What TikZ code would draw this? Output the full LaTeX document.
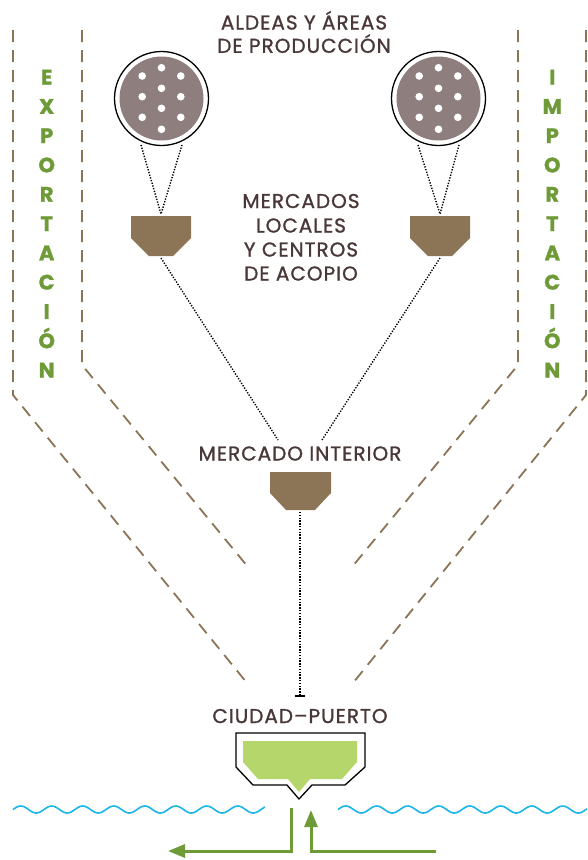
\documentclass[tikz,border=0pt]{standalone}
\usepackage{fontspec}
\setmainfont{Poppins}
\newfontfamily\lblfont{Poppins}[FakeBold=1.2, LetterSpace=5]
\newfontfamily\vfont{Poppins}[FakeBold=1.2]
\usetikzlibrary{arrows.meta,calc}
\definecolor{txt}{HTML}{4A3838}
\definecolor{dashc}{HTML}{8B7355}
\definecolor{funnelc}{HTML}{8C7557}
\definecolor{village}{HTML}{8E7F7E}
\definecolor{grn}{HTML}{6E9A38}
\definecolor{lgreen}{HTML}{B5D66B}
\definecolor{water}{HTML}{1DB5EA}
\begin{document}
\begin{tikzpicture}[x=1pt,y=-1pt,
  lbl/.style={font=\lblfont\fontsize{20}{20}\selectfont, text=txt, anchor=base, inner sep=0pt},
  vlet/.style={font=\vfont\bfseries\fontsize{21}{21}\selectfont, text=grn, anchor=base, inner sep=0pt},
  bound/.style={draw=dashc, line width=1.8pt, dash pattern=on 12pt off 8pt},
  dots/.style={draw=black, line width=1.4pt, dash pattern=on 1.3pt off 1.5pt},
  funnelshape/.style={fill=funnelc},
  wave/.style={draw=water, line width=1.6pt},
  flow/.style={draw=grn, line width=3pt}]
\useasboundingbox (0,0) rectangle (587,860);

% boundaries
\draw[bound] (13,30) -- (13,395) -- (247,683);
\draw[bound] (82,30) -- (82,365) -- (248,567);
\draw[bound] (518,30) -- (518,365) -- (352,567);
\draw[bound] (586,30) -- (586,395) -- (353,683);

% vertical words
\foreach \l [count=\i] in {E,X,P,O,R,T,A,C,I,Ó,N}
  \node[vlet] (ex\i) at (46.7, {84.5+29.3*(\i-1)}) {\l};
\foreach \l [count=\i] in {I,M,P,O,R,T,A,C,I,Ó,N}
  \node[vlet] (im\i) at (552.3, {84.5+29.3*(\i-1)}) {\l};

% titles
\node[lbl] (t1) at (304,29.5) {ALDEAS Y ÁREAS};
\node[lbl] (t2) at (304,52.8) {DE PRODUCCIÓN};
\node[lbl] (m1) at (301,208) {MERCADOS};
\node[lbl] (m2) at (301,232.5) {LOCALES};
\node[lbl] (m3) at (301,256.5) {Y CENTROS};
\node[lbl] (m4) at (301,280.5) {DE ACOPIO};
\node[lbl] (mi) at (300,460.5) {MERCADO INTERIOR};
\node[lbl] (cp) at (300,723) {CIUDAD–PUERTO};

% villages
\foreach \n/\cx in {vl/161.5, vr/438.5}{
  \coordinate (\n) at (\cx,98.5);
  \draw[black, line width=1.3pt, fill=white] (\n) circle[radius=47pt];
  \fill[village] (\n) circle[radius=42pt];
  \foreach \dx/\dy in {0/-30.8, 0/-10.2, 0/9.8, 0/30.8, -19.3/-22.5, -19.3/-1.8, -19.3/18.8, 19.3/-22.5, 19.3/-1.8, 19.3/18.8}
    \fill[white] ($(\n)+(\dx,\dy)$) circle[radius=3.8pt];
  \coordinate (\n-a) at (\cx-20.5,145);
  \coordinate (\n-b) at (\cx+20.5,145);
}

% local funnels
\foreach \n/\cx in {fl/161, fr/440}{
  \fill[funnelshape] (\cx-30,216) -- (\cx+30,216) -- (\cx+30,238) -- (\cx+12,256) -- (\cx-12,256) -- (\cx-30,238) -- cycle;
  \coordinate (\n-top) at (\cx,214);
  \coordinate (\n-bot) at (\cx,258);
}
% interior funnel
\fill[funnelshape] (270,472) -- (331,472) -- (331,493) -- (315,510) -- (286,510) -- (270,493) -- cycle;
\coordinate (fi-top) at (300,440);
\coordinate (fi-l) at (278,440);
\coordinate (fi-r) at (322,440);
\coordinate (fi-bot) at (300,512);
\coordinate (port-top) at (300,697);

% dotted connectors
\draw[dots] (vl-a) -- (fl-top) -- (vl-b);
\draw[dots] (vr-a) -- (fr-top) -- (vr-b);
\draw[dots] (fl-bot) -- (fi-l);
\draw[dots] (fr-bot) -- (fi-r);
\draw[dots, -{Bar[width=10pt,line width=1.8pt]}] (fi-bot) -- (port-top);

% port
\draw[black, line width=1.3pt, fill=white] (236,733) -- (365,733) -- (365,767) -- (345,785) -- (312,785) -- (299,799) -- (287,785) -- (253,785) -- (236,767) -- cycle;
\fill[lgreen] (243,741) -- (357,741) -- (357,762) -- (342,779) -- (310,779) -- (299,792) -- (288,779) -- (258,779) -- (243,762) -- cycle;

% water
\draw[wave] plot[domain=13:265, samples=160] (\x, {809.5 - 3.5*sin((\x-13)/31*360)});
\draw[wave] plot[domain=338:587, samples=160] (\x, {809.5 - 3.5*sin((\x-338)/31*360)});

% flows
\coordinate (ex-s) at (291,808);
\coordinate (ex-e) at (168,851);
\coordinate (im-s) at (436,851);
\coordinate (im-e) at (311,810);
\draw[flow, -{Triangle[length=17pt,width=13pt]}] (ex-s) |- (ex-e);
\draw[flow, -{Triangle[length=17pt,width=13pt]}] (im-s) -| (im-e);
\end{tikzpicture}
\end{document}
